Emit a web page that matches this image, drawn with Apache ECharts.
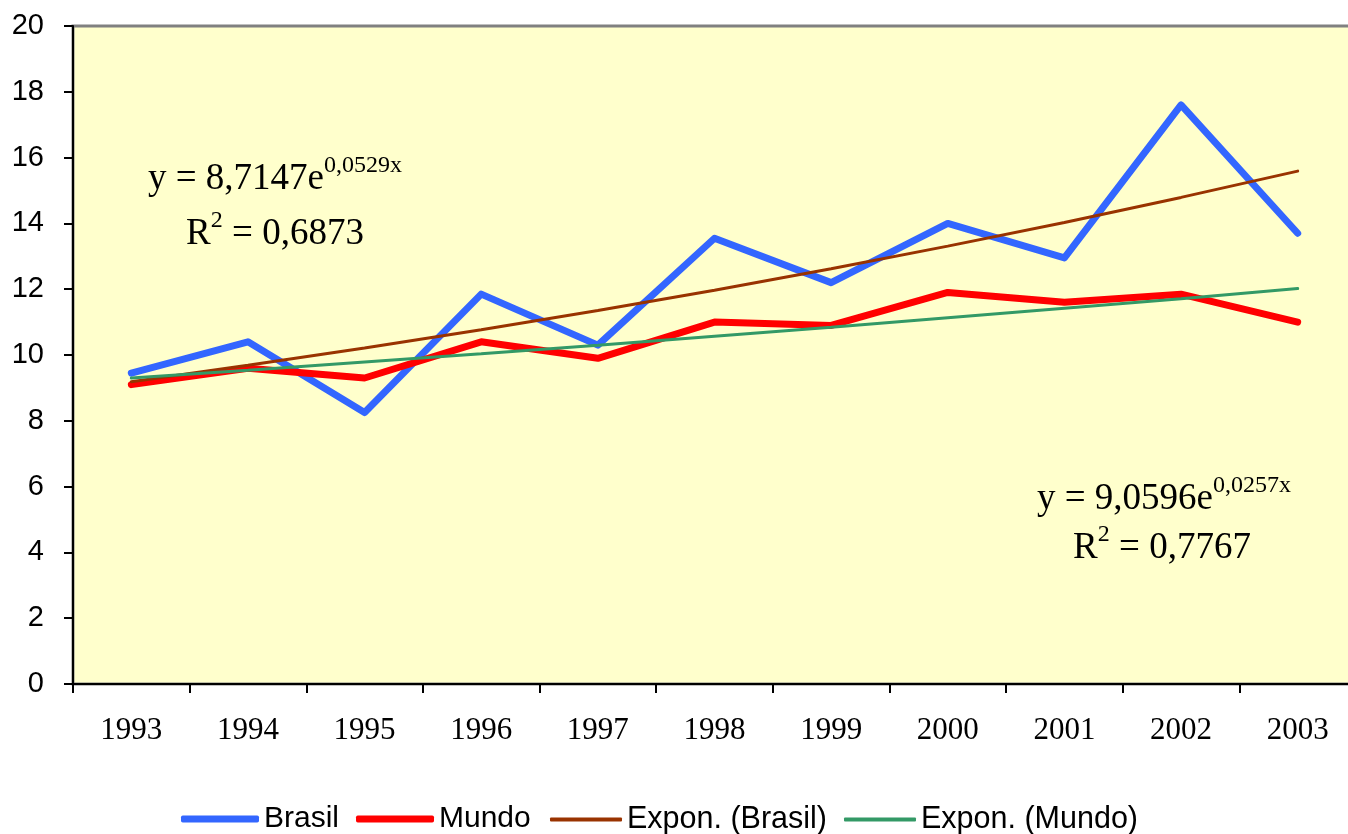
<!DOCTYPE html>
<html>
<head>
<meta charset="utf-8">
<script src="https://cdn.jsdelivr.net/npm/echarts@6/dist/echarts.min.js"></script>
<style>
html,body{margin:0;padding:0;background:#fff;}
#c{width:1348px;height:834px;}
</style>
</head>
<body>
<div id="c"></div>
<script>
var years = ['1993','1994','1995','1996','1997','1998','1999','2000','2001','2002','2003'];
var brasil = [9.45, 10.4, 8.25, 11.85, 10.3, 13.55, 12.2, 14.0, 12.95, 17.6, 13.7];
var mundo = [9.1, 9.6, 9.3, 10.4, 9.9, 11.0, 10.9, 11.9, 11.6, 11.85, 11.0];
var expBrasil = [9.19, 9.69, 10.21, 10.77, 11.35, 11.97, 12.62, 13.31, 14.03, 14.79, 15.59];
var expMundo = [9.30, 9.54, 9.79, 10.04, 10.30, 10.57, 10.84, 11.13, 11.42, 11.71, 12.02];
var seriesNames = ['Brasil', 'Mundo', 'Expon. (Brasil)', 'Expon. (Mundo)'];
var eq1 = ['y = 8,7147e', '0,0529x', 'R', '2', ' = 0,6873'];
var eq2 = ['y = 9,0596e', '0,0257x', 'R', '2', ' = 0,7767'];

var chart = echarts.init(document.getElementById('c'), null, {renderer:'canvas'});
var serif = '"Liberation Serif", "Times New Roman", serif';
var sans = '"Liberation Sans", Arial, sans-serif';
var rich = {
  m: {fontFamily: serif, fontSize: 37, lineHeight: 44, verticalAlign: 'bottom', color: '#000'},
  s: {fontFamily: serif, fontSize: 24, lineHeight: 24, verticalAlign: 'top', color: '#000'}
};
function eqText(x, y, txt) {
  return {type: 'text', x: x, y: y, z: 100,
    style: {text: txt, rich: rich, align: 'center', verticalAlign: 'top'}};
}
var option = {
  animation: false,
  grid: {left: 73, width: 1283, top: 26, bottom: 150, show: true,
    outerBoundsMode: 'none',
    backgroundColor: '#FFFFCC', borderColor: '#808080', borderWidth: 3},
  xAxis: {type: 'category', data: years, boundaryGap: true,
    axisLine: {lineStyle: {color: '#000', width: 2}},
    axisTick: {show: true, interval: 0, length: 9, lineStyle: {color: '#000', width: 2}},
    axisLabel: {interval: 0, margin: 31, color: '#000', fontFamily: serif, fontSize: 31},
    splitLine: {show: false}},
  yAxis: {type: 'value', min: 0, max: 20, interval: 2,
    axisLine: {show: true, lineStyle: {color: '#000', width: 2}},
    axisTick: {show: true, length: 9, lineStyle: {color: '#000', width: 2}},
    axisLabel: {margin: 29, color: '#000', fontFamily: sans, fontSize: 29},
    splitLine: {show: false}},
  legend: [
    {data: [seriesNames[0], seriesNames[1]], left: 176, top: 799, icon: 'roundRect',
      itemWidth: 78, itemHeight: 7, itemGap: 17,
      textStyle: {fontFamily: sans, fontSize: 30, color: '#000'}},
    {data: [seriesNames[2], seriesNames[3]], left: 545, top: 799, icon: 'roundRect',
      itemWidth: 72, itemHeight: 4, itemGap: 17,
      textStyle: {fontFamily: sans, fontSize: 30.5, color: '#000'}}
  ],
  series: [
    {name: seriesNames[0], type: 'line', data: brasil, symbol: 'none', color: '#3366FF',
      lineStyle: {width: 7, color: '#3366FF', cap: 'round', join: 'round'}},
    {name: seriesNames[1], type: 'line', data: mundo, symbol: 'none', color: '#FF0000',
      lineStyle: {width: 7, color: '#FF0000', cap: 'round', join: 'round'}},
    {name: seriesNames[2], type: 'line', data: expBrasil, symbol: 'none', color: '#993300',
      lineStyle: {width: 3, color: '#993300', cap: 'round'}},
    {name: seriesNames[3], type: 'line', data: expMundo, symbol: 'none', color: '#339966',
      lineStyle: {width: 3, color: '#339966', cap: 'round'}}
  ],
  graphic: [
    eqText(275, 154, '{m|' + eq1[0] + '}{s|' + eq1[1] + '}'),
    eqText(275, 209, '{m|' + eq1[2] + '}{s|' + eq1[3] + '}{m|' + eq1[4] + '}'),
    eqText(1164, 474, '{m|' + eq2[0] + '}{s|' + eq2[1] + '}'),
    eqText(1162, 523, '{m|' + eq2[2] + '}{s|' + eq2[3] + '}{m|' + eq2[4] + '}')
  ]
};
chart.setOption(option);
</script>
</body>
</html>
